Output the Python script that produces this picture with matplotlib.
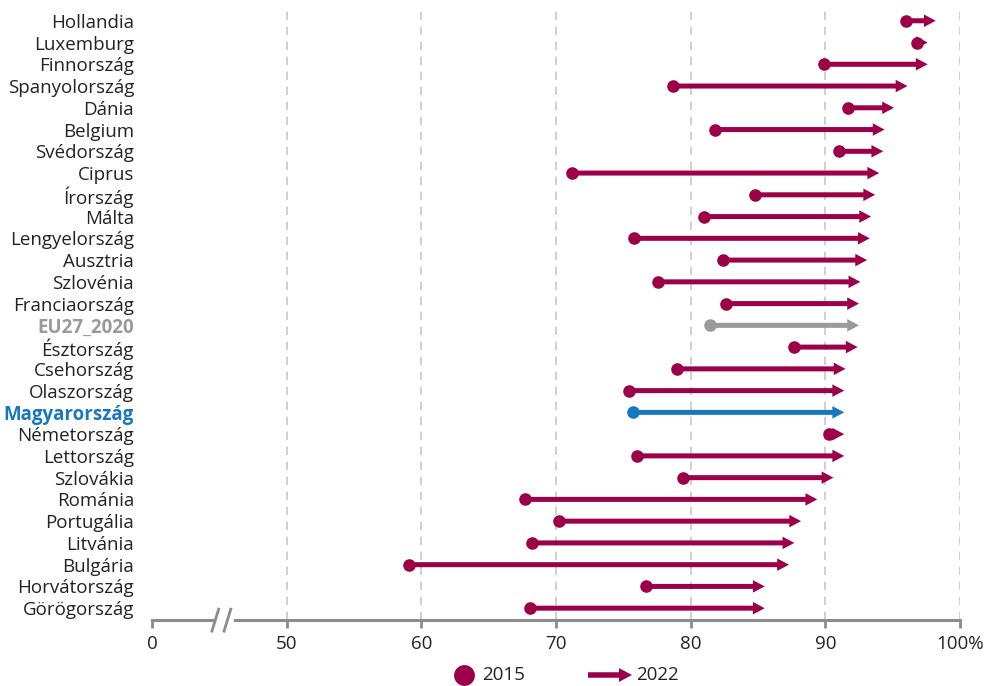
import numpy as np
import matplotlib.pyplot as plt

plt.rcParams['font.family'] = ['Open Sans', 'DejaVu Sans']

countries = ["Hollandia", "Luxemburg", "Finnország", "Spanyolország", "Dánia", "Belgium",
             "Svédország", "Ciprus", "Írország", "Málta", "Lengyelország", "Ausztria",
             "Szlovénia", "Franciaország", "EU27_2020", "Észtország", "Csehország",
             "Olaszország", "Magyarország", "Németország", "Lettország", "Szlovákia",
             "Románia", "Portugália", "Litvánia", "Bulgária", "Horvátország", "Görögország"]
v2015 = [96.0, 96.8, 89.9, 78.7, 91.7, 81.8, 91.0, 71.2, 84.8, 81.0, 75.8, 82.4,
         77.6, 82.6, 81.4, 87.7, 79.0, 75.4, 75.7, 90.3, 76.0, 79.4,
         67.7, 70.2, 68.2, 59.1, 76.7, 68.1]
v2022 = [98.2, 97.6, 97.6, 96.1, 95.1, 94.4, 94.3, 94.0, 93.7, 93.4, 93.3, 93.1,
         92.6, 92.5, 92.5, 92.4, 91.5, 91.4, 91.4, 91.4, 91.4, 90.6,
         89.4, 88.2, 87.7, 87.3, 85.5, 85.5]
xticks = [40, 50, 60, 70, 80, 90, 100]
xticklabels = ["0", "50", "60", "70", "80", "90", "100%"]

MAG = "#9b0048"
BLUE = "#1878bd"
GREY = "#999a9c"
AXC = "#8c8c8c"
ARROW = "simple,head_length=0.85,head_width=0.9,tail_width=0.36"


def color_for(name):
    if name == "EU27_2020":
        return GREY
    if name == "Magyarország":
        return BLUE
    return MAG


fig = plt.figure(figsize=(10, 6.86), dpi=100)
ax = fig.add_axes([0.152, 0.096, 0.808, 0.888])

n = len(countries)
ys = np.arange(n)
for y, name, a, b in zip(ys, countries, v2015, v2022):
    c = color_for(name)
    ax.annotate("", xy=(b, y), xytext=(a, y),
                arrowprops=dict(arrowstyle=ARROW, color=c, lw=0, shrinkA=0, shrinkB=0,
                                mutation_scale=10),
                zorder=3)
    ax.scatter([a], [y], s=82, color=c, zorder=4, linewidths=0)

ax.set_xlim(40, 100)
ax.set_ylim(n - 0.45, -0.45)
ax.set_yticks(ys)
ax.set_yticklabels(countries, fontsize=13.5, color="#222222")
for lbl, name in zip(ax.get_yticklabels(), countries):
    if name in ("EU27_2020", "Magyarország"):
        lbl.set_color(color_for(name))
        lbl.set_fontweight("bold")
ax.tick_params(axis="y", length=0, pad=13)

ax.set_xticks(xticks)
ax.set_xticklabels(xticklabels, fontsize=13.5, color="#222222")
ax.tick_params(axis="x", length=6, width=2, color=AXC, pad=5)

for x in xticks[1:]:
    ax.axvline(x, color="#c8c8c8", lw=1.2, ls=(0, (5, 4)), zorder=1)

for s in ["top", "right", "left"]:
    ax.spines[s].set_visible(False)
ax.spines["bottom"].set_color(AXC)
ax.spines["bottom"].set_linewidth(2.2)

# axis break
tr = ax.get_xaxis_transform()
ax.plot([45.0, 45.9], [0.0, 0.0], transform=tr, color="white", lw=4, clip_on=False, zorder=5)
for xb in (44.7, 45.6):
    ax.plot([xb - 0.25, xb + 0.25], [-0.018, 0.018], transform=tr, color=AXC, lw=2,
            clip_on=False, zorder=6)

# legend, drawn by hand in figure coordinates
ly = 1 - 675 / 686
fig.add_artist(plt.Line2D([0.464], [ly], marker="o", markersize=15, color=MAG,
                          markeredgewidth=0, transform=fig.transFigure))
fig.text(0.482, ly, "2015", fontsize=13.5, color="#222222", va="center", ha="left")
ax.annotate("", xy=(0.632, ly), xytext=(0.588, ly), xycoords="figure fraction",
            textcoords="figure fraction",
            arrowprops=dict(arrowstyle=ARROW, color=MAG, lw=0, shrinkA=0, shrinkB=0,
                            mutation_scale=11),
            annotation_clip=False)
fig.text(0.636, ly, "2022", fontsize=13.5, color="#222222", va="center", ha="left")

fig.savefig("out.png", dpi=100)
